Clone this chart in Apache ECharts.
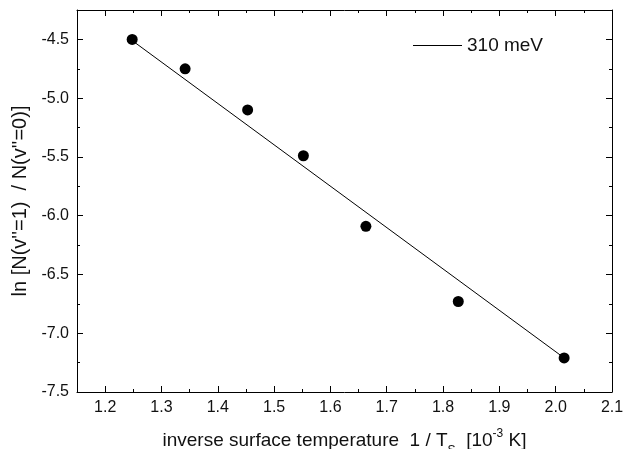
<!DOCTYPE html>
<html>
<head>
<meta charset="utf-8">
<script src="https://cdn.jsdelivr.net/npm/echarts@6/dist/echarts.min.js"></script>
<style>html,body{margin:0;padding:0;background:#fff}#c{width:626px;height:449px}</style>
</head>
<body>
<div id="c"></div>
<script>
var xValues = [1.248, 1.342, 1.453, 1.552, 1.663, 1.827, 2.015];
var yValues = [-4.50, -4.75, -5.10, -5.49, -6.09, -6.73, -7.21];
var fitX = [1.248, 2.015];
var fitY = [-4.51, -7.21];
var xTicks = [1.2, 1.3, 1.4, 1.5, 1.6, 1.7, 1.8, 1.9, 2.0, 2.1];
var xMinor = [1.15, 1.25, 1.35, 1.45, 1.55, 1.65, 1.75, 1.85, 1.95, 2.05];
var yTicks = [-7.5, -7.0, -6.5, -6.0, -5.5, -5.0, -4.5];
var yMinor = [-7.25, -6.75, -6.25, -5.75, -5.25, -4.75, -4.25];
var legendName = '310 meV';

var points = xValues.map(function (x, i) { return [x, yValues[i]]; });
var fit = fitX.map(function (x, i) { return [x, fitY[i]]; });

var font = 'Liberation Sans, Arial, sans-serif';
var ink = '#111';
var lineStyle = { color: '#000', width: 1 };

function xAxis(pos, ticks, len, withLine, withLabel) {
  var a = {
    type: 'value', position: pos, min: 1.15, max: 2.1,
    splitLine: { show: false },
    axisLine: { show: withLine, onZero: false, lineStyle: lineStyle },
    axisTick: { show: true, inside: true, length: len, customValues: ticks, lineStyle: lineStyle },
    axisLabel: { show: withLabel }
  };
  if (withLabel) {
    a.axisLabel = { show: true, customValues: xTicks, margin: 8, color: ink, fontSize: 16, fontFamily: font,
      formatter: function (v) { return v.toFixed(1); } };
    a.name = 'inverse surface temperature  1 / T{sub|S}  [10{sup|-3} K]';
    a.nameLocation = 'middle';
    a.nameGap = 19;
    a.nameTextStyle = {
      color: ink, fontSize: 19, fontFamily: font, lineHeight: 40, verticalAlign: 'middle',
      rich: {
        sub: { fontSize: 12, fontFamily: font, color: ink, lineHeight: 13, padding: [20, 0, 0, 0], verticalAlign: 'middle' },
        sup: { fontSize: 12, fontFamily: font, color: ink, lineHeight: 14, padding: [0, 0, 14, 0], verticalAlign: 'middle' }
      }
    };
  }
  return a;
}
function yAxis(pos, ticks, len, withLine, withLabel) {
  var a = {
    type: 'value', position: pos, min: -7.5, max: -4.25,
    splitLine: { show: false },
    axisLine: { show: withLine, onZero: false, lineStyle: lineStyle },
    axisTick: { show: true, inside: true, length: len, customValues: ticks, lineStyle: lineStyle },
    axisLabel: { show: withLabel }
  };
  if (withLabel) {
    a.axisLabel = { show: true, customValues: yTicks, margin: 8, color: ink, fontSize: 16, fontFamily: font,
      formatter: function (v) { return v.toFixed(1); } };
    a.name = "ln [N(v''=1)  / N(v''=0)]";
    a.nameLocation = 'middle';
    a.nameGap = 47;
    a.nameTextStyle = { color: ink, fontSize: 20, fontFamily: font };
  }
  return a;
}

var chart = echarts.init(document.getElementById('c'), null, { renderer: 'canvas' });
chart.setOption({
  animation: false,
  backgroundColor: '#fff',
  grid: { left: 77, right: 14, top: 10, bottom: 57, containLabel: false, outerBoundsMode: 'none' },
  legend: {
    data: [{ name: legendName, icon: 'rect' }], left: 413, top: 36, padding: 0,
    itemWidth: 49, itemHeight: 1,
    itemStyle: { color: '#000' },
    textStyle: { color: ink, fontSize: 19, fontFamily: font }
  },
  xAxis: [
    xAxis('bottom', xTicks, 6, true, true),
    xAxis('bottom', xMinor, 3, false, false),
    xAxis('top', xTicks, 6, true, false),
    xAxis('top', xMinor, 3, false, false)
  ],
  yAxis: [
    yAxis('left', yTicks, 6, true, true),
    yAxis('left', yMinor, 3, false, false),
    yAxis('right', yTicks, 6, true, false),
    yAxis('right', yMinor, 3, false, false)
  ],
  series: [
    { name: legendName, type: 'line', data: fit, symbol: 'none', showSymbol: false,
      lineStyle: { color: '#000', width: 1 }, itemStyle: { color: '#000' }, z: 2 },
    { name: 'data', type: 'scatter', data: points, symbol: 'circle', symbolSize: 11,
      itemStyle: { color: '#000', opacity: 1 }, z: 3 }
  ]
});
</script>
</body>
</html>
